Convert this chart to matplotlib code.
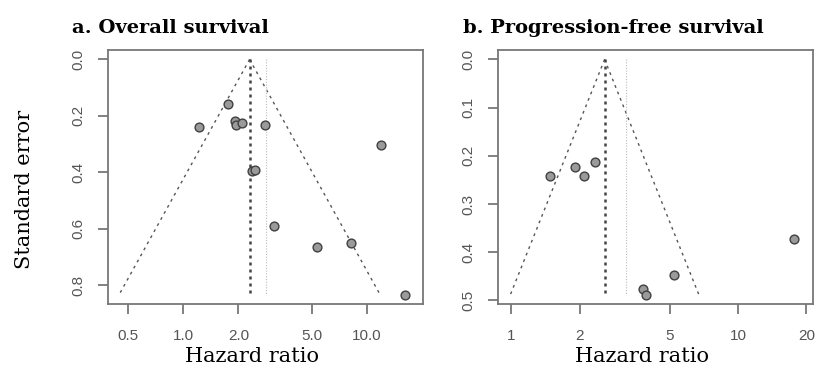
import numpy as np
import matplotlib
matplotlib.use("Agg")
import matplotlib.pyplot as plt
from matplotlib.ticker import FixedLocator, NullLocator

# a. overall survival
os_hr = [1.75, 1.22, 1.91, 1.95, 2.10, 2.78, 11.9, 2.37, 2.47, 3.14, 5.35, 8.22, 16.2]
os_se = [0.158, 0.241, 0.219, 0.231, 0.224, 0.231, 0.303, 0.397, 0.391, 0.590, 0.664, 0.650, 0.834]
os_fixed = 2.30
os_random = 2.83
os_xticks = [0.5, 1.0, 2.0, 5.0, 10.0]
os_xlabels = ["0.5", "1.0", "2.0", "5.0", "10.0"]
os_yticks = [0.0, 0.2, 0.4, 0.6, 0.8]
os_ylabels = ["0.0", "0.2", "0.4", "0.6", "0.8"]

# b. progression-free survival
pfs_hr = [1.48, 1.91, 2.09, 2.33, 17.7, 5.21, 3.82, 3.92]
pfs_se = [0.242, 0.224, 0.242, 0.213, 0.372, 0.447, 0.476, 0.488]
pfs_fixed = 2.58
pfs_random = 3.22
pfs_xticks = [1, 2, 5, 10, 20]
pfs_xlabels = ["1", "2", "5", "10", "20"]
pfs_yticks = [0.0, 0.1, 0.2, 0.3, 0.4, 0.5]
pfs_ylabels = ["0.0", "0.1", "0.2", "0.3", "0.4", "0.5"]

SERIF = ["DejaVu Serif"]
SANS = ["Liberation Sans", "DejaVu Sans"]
GREY = "#777777"


def funnel(ax, hr, se, fixed, random, xticks, xlabels, yticks, ylabels, xlim):
    se_max = max(se)
    ylim = (-0.04 * se_max, se_max * 1.04)
    ax.set_xscale("log")
    # funnel (pseudo 95% CI around fixed estimate)
    s = np.array([0.0, se_max])
    lf = np.log(fixed)
    ax.plot(np.exp(lf - 1.96 * s), s, ls=(0, (2, 3)), color="#555555", lw=1.0, zorder=1)
    ax.plot(np.exp(lf + 1.96 * s), s, ls=(0, (2, 3)), color="#555555", lw=1.0, zorder=1)
    ax.plot([fixed, fixed], [0, se_max], ls=(0, (1.2, 1.6)), color="#444444", lw=1.8, zorder=1)
    ax.plot([random, random], [0, se_max], ls=(0, (1, 1.5)), color="#bbbbbb", lw=0.8, zorder=1)
    ax.scatter(hr, se, s=40, facecolor="#9a9a9a", edgecolor="#404040", linewidths=1.0, zorder=3)

    ax.set_xlim(*xlim)
    ax.set_ylim(ylim[1], ylim[0])
    ax.xaxis.set_major_locator(FixedLocator(xticks))
    ax.xaxis.set_minor_locator(NullLocator())
    ax.set_xticklabels(xlabels, fontfamily=SANS, fontsize=11, color="#555555")
    ax.set_yticks(yticks)
    ax.set_yticklabels(ylabels, fontfamily=SANS, fontsize=11, color="#555555",
                       rotation=90, va="center")
    ax.tick_params(axis="both", direction="out", length=7, width=1.3, color=GREY)
    ax.tick_params(axis="x", pad=11)
    ax.tick_params(axis="y", pad=9)
    for sp in ax.spines.values():
        sp.set_color(GREY)
        sp.set_linewidth(1.3)
    ax.set_xlabel("Hazard ratio", fontfamily=SERIF, fontsize=15)
    # label sits a bit left of the axis centre in the original
    ax.xaxis.set_label_coords(0.458, -0.168)


fig = plt.figure(figsize=(8.16, 3.74), dpi=100)
ax1 = fig.add_axes([108 / 816, 70 / 374, 315 / 816, 254 / 374])
ax2 = fig.add_axes([498 / 816, 70 / 374, 315 / 816, 254 / 374])

funnel(ax1, os_hr, os_se, os_fixed, os_random, os_xticks, os_xlabels,
       os_yticks, os_ylabels, (0.39, 20.2))
funnel(ax2, pfs_hr, pfs_se, pfs_fixed, pfs_random, pfs_xticks, pfs_xlabels,
       pfs_yticks, pfs_ylabels, (0.874, 21.4))

ax1.set_ylabel("Standard error", fontfamily=SERIF, fontsize=15)
ax1.yaxis.set_label_coords(-0.236, 0.45)

fig.text(72 / 816, 1 - 33 / 374, "a. Overall survival", fontfamily=SERIF,
         fontsize=14, fontweight="bold", ha="left", va="baseline")
fig.text(463 / 816, 1 - 33 / 374, "b. Progression-free survival", fontfamily=SERIF,
         fontsize=14, fontweight="bold", ha="left", va="baseline")

fig.savefig("out.png", dpi=100)
